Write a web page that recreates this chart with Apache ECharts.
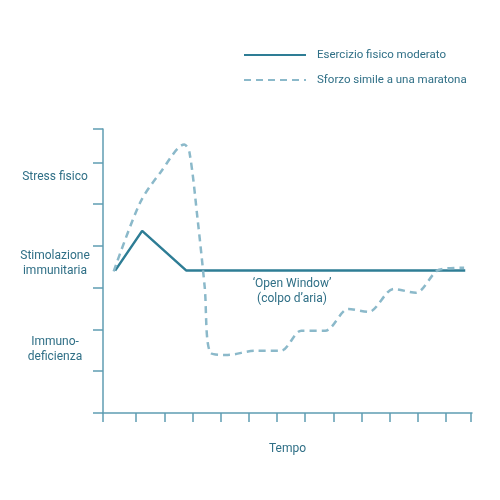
<!DOCTYPE html>
<html><head><meta charset="utf-8">
<script src="https://cdn.jsdelivr.net/npm/echarts@6/dist/echarts.min.js"></script>
<style>html,body{margin:0;background:#fff}#c{width:500px;height:500px}</style>
</head><body><div id="c"></div>
<script>
var seriesNames = ['Esercizio fisico moderato', 'Sforzo simile a una maratona'];
var moderate = [[0.43,3.41],[1.39,4.36],[2.96,3.41],[12.86,3.41]];
var marathon = [[0.38,3.39],[1.32,5.04],[2.04,5.76],[2.89,6.43],[3.07,6.24],[3.36,4.63],[3.61,3.02],[3.82,1.44],[4.43,1.39],[5.39,1.49],[6.32,1.49],[7.04,1.97],[7.89,1.97],[8.71,2.49],[9.43,2.42],[10.32,2.97],[11.11,2.88],[11.93,3.43],[12.82,3.48]];
var xTicks = [0,1.18,2.18,3.18,4.18,5.18,6.18,7.18,8.18,9.18,10.18,11.18,12.18,13.05];
var yTicks = [0,1,2,3,4,5,6,6.8];
var yLabels = [{v:5.66,t:'Stress fisico'},{v:3.57,t:'Stimolazione\nimmunitaria'},{v:1.53,t:'Immuno-\ndeficienza'}];
var axisColor = '#5f9db2';
var font = 'Roboto';
var chart = echarts.init(document.getElementById('c'));
chart.setOption({
  animation:false,
  textStyle:{fontFamily:font},
  grid:{left:103,right:28,top:129,bottom:87},
  legend:{orient:'vertical',left:238,top:44,itemWidth:62,itemHeight:10,itemGap:13,
    itemStyle:{opacity:0},
    textStyle:{color:'#2f6f86',fontSize:11.5,fontFamily:font,padding:[0,0,0,6]},
    data:seriesNames},
  xAxis:{type:'value',min:0,max:13.1,name:'Tempo',nameLocation:'middle',nameGap:30,
    nameTextStyle:{color:'#2f6f86',fontSize:12},
    axisLine:{show:true,lineStyle:{color:axisColor,width:1.5}},
    axisTick:{show:true,length:9,customValues:xTicks,lineStyle:{color:axisColor,width:1.5}},
    axisLabel:{show:false},splitLine:{show:false}},
  yAxis:{type:'value',min:0,max:6.8,
    axisLine:{show:true,lineStyle:{color:axisColor,width:1.5}},
    axisTick:{show:true,length:10,customValues:yTicks,lineStyle:{color:axisColor,width:1.5}},
    axisLabel:{show:false},splitLine:{show:false}},
  series:[
    {name:seriesNames[0],type:'line',data:moderate,symbol:'none',
     lineStyle:{color:'#2e7d95',width:2.5},itemStyle:{color:'#2e7d95'}},
    {name:seriesNames[1],type:'line',data:marathon,symbol:'none',smooth:0.3,
     lineStyle:{color:'#8bb9ca',width:2.5,type:[7,5]},itemStyle:{color:'#8bb9ca'}}
  ]
});
var g = yLabels.map(function(l){
  var p = chart.convertToPixel({gridIndex:0},[0,l.v]);
  return {type:'text',x:55,y:p[1],style:{text:l.t,fill:'#2f6f86',font:'12px '+font,align:'center',verticalAlign:'middle',lineHeight:15}};
});
var ap = chart.convertToPixel({gridIndex:0},[6.71,2.91]);
g.push({type:'text',x:ap[0],y:ap[1],style:{text:"‘Open Window’\n(colpo d’aria)",fill:'#2f6f86',font:'12px '+font,align:'center',verticalAlign:'middle',lineHeight:15}});
chart.setOption({graphic:g});
</script></body></html>
